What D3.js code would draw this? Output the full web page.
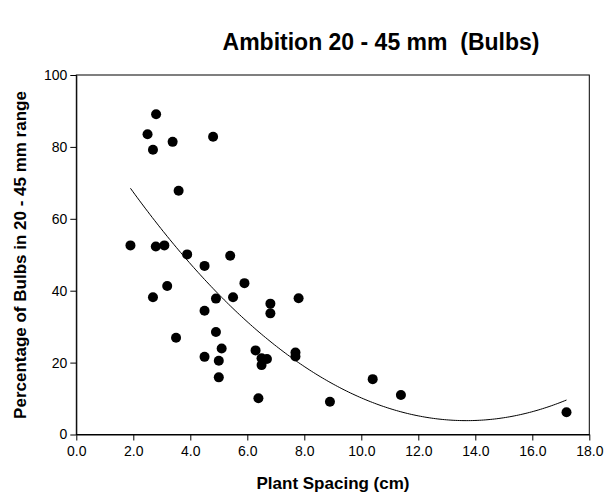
<!DOCTYPE html>
<html><head><meta charset="utf-8">
<script src="https://cdn.jsdelivr.net/npm/d3@7"></script>
<style>body{margin:0;background:#fff}svg{display:block}text{font-family:Arial,"Liberation Sans",sans-serif}</style>
</head><body>
<svg id="c" width="604" height="495"></svg>
<script>
const spacing = [1.90,2.50,2.69,2.69,2.79,2.80,3.09,3.19,3.38,3.50,3.59,3.89,4.50,4.50,4.50,4.80,4.90,4.90,5.00,5.00,5.10,5.40,5.50,5.90,6.29,6.39,6.50,6.50,6.69,6.81,6.81,7.69,7.69,7.80,8.90,10.40,11.39,17.20];
const percent = [52.6,83.5,79.2,38.2,52.3,89.1,52.6,41.3,81.4,26.9,67.8,50.1,46.9,34.4,21.6,82.8,37.8,28.5,20.5,15.9,23.9,49.7,38.2,42.1,23.4,10.1,21.2,19.3,21.0,36.4,33.7,22.8,21.7,37.9,9.1,15.4,11.0,6.2];
const xTicks = [0,2,4,6,8,10,12,14,16,18];
const yTicks = [0,20,40,60,80,100];

const svg = d3.select("#c");
const m = {l:76.3, r:589.3, t:75, b:434.5};
const x = d3.scaleLinear().domain([0,18]).range([m.l,m.r]);
const y = d3.scaleLinear().domain([0,100]).range([m.b,m.t]);

// quadratic least squares fit
function quadFit(xs, ys){
  let S=[0,0,0,0,0], T=[0,0,0];
  xs.forEach((xv,i)=>{let p=1;for(let k=0;k<5;k++){S[k]+=p;if(k<3)T[k]+=p*ys[i];p*=xv;}});
  const A=[[S[0],S[1],S[2],T[0]],[S[1],S[2],S[3],T[1]],[S[2],S[3],S[4],T[2]]];
  for(let i=0;i<3;i++){for(let j=i+1;j<3;j++){const f=A[j][i]/A[i][i];for(let k=i;k<4;k++)A[j][k]-=f*A[i][k];}}
  const c=[0,0,0];
  for(let i=2;i>=0;i--){let s=A[i][3];for(let k=i+1;k<3;k++)s-=A[i][k]*c[k];c[i]=s/A[i][i];}
  return c;
}
const coef = quadFit(spacing, percent);
const [xmin,xmax] = d3.extent(spacing);
const curve = d3.range(0,201).map(i=>{const xv=xmin+(xmax-xmin)*i/200;return [xv,coef[0]+coef[1]*xv+coef[2]*xv*xv];});

// frame
svg.append("rect").attr("x",m.l).attr("y",m.t).attr("width",m.r-m.l).attr("height",m.b-m.t)
  .attr("fill","none").attr("stroke","#000").attr("stroke-width",1);

const xAxis = svg.append("g").attr("transform",`translate(0,${m.b})`)
  .call(d3.axisBottom(x).tickValues(xTicks).tickFormat(d3.format(".1f")).tickSize(6).tickSizeOuter(0));
const yAxis = svg.append("g").attr("transform",`translate(${m.l},0)`)
  .call(d3.axisLeft(y).tickValues(yTicks).tickFormat(d3.format("d")).tickSize(6).tickSizeOuter(0));
[xAxis,yAxis].forEach(g=>{g.select(".domain").attr("stroke","#000");g.selectAll("line").attr("stroke","#000");
  g.selectAll("text").attr("font-size",14).attr("font-family","Arial, 'Liberation Sans', sans-serif").attr("fill","#000");});
xAxis.selectAll("text").attr("y",10).attr("dy","0.85em");
yAxis.selectAll("text").attr("x",-9);

svg.append("path").datum(curve)
  .attr("d",d3.line().x(d=>x(d[0])).y(d=>y(d[1])))
  .attr("fill","none").attr("stroke","#000").attr("stroke-width",1);

svg.append("g").selectAll("circle").data(spacing).join("circle")
  .attr("cx",(d)=>x(d)).attr("cy",(d,i)=>y(percent[i])).attr("r",5).attr("fill","#000");

svg.append("text").attr("x",381).attr("y",50).attr("text-anchor","middle")
  .attr("font-size",23).attr("font-weight","bold").style("white-space","pre").text("Ambition 20 - 45 mm  (Bulbs)");
svg.append("text").attr("x",333).attr("y",489).attr("text-anchor","middle")
  .attr("font-size",17).attr("font-weight","bold").text("Plant Spacing (cm)");
svg.append("text").attr("transform","translate(26,255) rotate(-90)").attr("text-anchor","middle")
  .attr("font-size",17).attr("font-weight","bold").text("Percentage of Bulbs in 20 - 45 mm range");
</script>
</body></html>
